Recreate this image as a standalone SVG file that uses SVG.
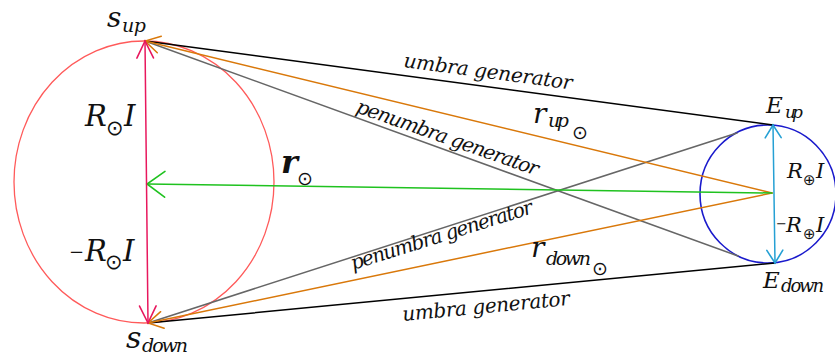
<svg xmlns="http://www.w3.org/2000/svg" width="835" height="356" viewBox="0 0 835 356">
<style>
  .ln { fill: none; stroke-width: 1.5; stroke-linecap: round; }
  .t { font-family: "DejaVu Serif", "Liberation Serif", serif; font-style: italic; fill: #111; }
  .sym { font-family: "DejaVu Sans", "Noto Sans", sans-serif; font-style: normal; fill: #111; }
  .gen { font-family: "DejaVu Serif", "Liberation Serif", serif; font-style: italic; font-size: 20px; fill: #111; }
</style>
<defs>
  <marker id="mPink" markerUnits="userSpaceOnUse" orient="auto-start-reverse" markerWidth="40" markerHeight="40" refX="0" refY="0" overflow="visible">
    <path d="M -17 -8.3 L 0 0 L -17 8.3" fill="none" stroke="#e8175d" stroke-width="1.6" stroke-linecap="round"/>
  </marker>
  <marker id="mOrange" markerUnits="userSpaceOnUse" orient="auto-start-reverse" markerWidth="40" markerHeight="40" refX="0" refY="0" overflow="visible">
    <path d="M -14.7 -8.5 L 0 0 L -14.7 8.5" fill="none" stroke="#d9780a" stroke-width="1.5" stroke-linecap="round"/>
  </marker>
  <marker id="mGreen" markerUnits="userSpaceOnUse" orient="auto-start-reverse" markerWidth="40" markerHeight="40" refX="0" refY="0" overflow="visible">
    <path d="M -17.8 -12.9 L 0 0 L -17.8 12.9" fill="none" stroke="#1fc21f" stroke-width="1.6" stroke-linecap="round"/>
  </marker>
  <marker id="mCyan" markerUnits="userSpaceOnUse" orient="auto-start-reverse" markerWidth="40" markerHeight="40" refX="0" refY="0" overflow="visible">
    <path d="M -12.7 -8 L 0 0 L -12.7 8" fill="none" stroke="#25a0d4" stroke-width="1.6" stroke-linecap="round"/>
  </marker>
</defs>
<rect width="835" height="356" fill="#ffffff"/>

<g id="sun">
  <ellipse cx="144" cy="182" rx="130" ry="141" fill="none" stroke="#ff5a5a" stroke-width="1.3"/>
</g>
<g id="earth">
  <ellipse cx="768" cy="194" rx="68" ry="69" fill="none" stroke="#1a1acc" stroke-width="1.6"/>
</g>

<g id="connectors">
  <line class="ln" x1="145" y1="41" x2="773" y2="125" stroke="#000"/>
  <line class="ln" x1="148" y1="323" x2="775" y2="263" stroke="#000"/>
  <line class="ln" x1="145" y1="41" x2="738" y2="256" stroke="#666"/>
  <line class="ln" x1="148" y1="323" x2="737" y2="133" stroke="#666"/>
  <line class="ln" x1="772" y1="193" x2="145" y2="41" stroke="#d9780a" marker-end="url(#mOrange)"/>
  <line class="ln" x1="772" y1="193" x2="148" y2="323" stroke="#d9780a" marker-end="url(#mOrange)"/>
  <line class="ln" x1="772" y1="193" x2="147" y2="184" stroke="#1fc21f" stroke-width="1.8" marker-end="url(#mGreen)"/>
  <line class="ln" x1="145" y1="41" x2="148" y2="323" stroke="#e8175d" stroke-width="1.6" marker-start="url(#mPink)" marker-end="url(#mPink)"/>
  <line class="ln" x1="773" y1="125" x2="775" y2="263" stroke="#25a0d4" stroke-width="1.8" marker-start="url(#mCyan)" marker-end="url(#mCyan)"/>
</g>

<g id="labels">
  <g id="s-up">
    <text class="t" x="107" y="27" font-size="28">s</text>
    <text class="t" x="122" y="32" font-size="19" textLength="24">up</text>
  </g>
  <g id="s-down">
    <text class="t" x="126" y="348" font-size="30">s</text>
    <text class="t" x="142" y="352" font-size="19" textLength="46">down</text>
  </g>
  <g id="R-sun">
    <text class="t" x="85" y="126" font-size="29">R</text>
    <text class="sym" x="106" y="135" font-size="21">⊙</text>
    <text class="t" x="124" y="126" font-size="29">I</text>
  </g>
  <g id="minus-R-sun">
    <text class="t" x="69" y="258" font-size="18" textLength="14">−</text>
    <text class="t" x="85" y="261" font-size="29">R</text>
    <text class="sym" x="105" y="269" font-size="21">⊙</text>
    <text class="t" x="123" y="261" font-size="29">I</text>
  </g>
  <g id="r-sun">
    <text class="t" x="281" y="173" font-size="32" font-weight="bold">r</text>
    <text class="sym" x="297" y="185" font-size="19">⊙</text>
  </g>
  <g id="r-up">
    <text class="t" x="533" y="123" font-size="28">r</text>
    <text class="t" x="548" y="127" font-size="19" textLength="21">up</text>
    <text class="sym" x="572" y="139" font-size="19">⊙</text>
  </g>
  <g id="r-down">
    <text class="t" x="531" y="257" font-size="28">r</text>
    <text class="t" x="546" y="265" font-size="19" textLength="45">down</text>
    <text class="sym" x="592" y="275" font-size="19">⊙</text>
  </g>
  <g id="E-up">
    <text class="t" x="766" y="113" font-size="23">E</text>
    <text class="t" x="785" y="118" font-size="17" textLength="18">up</text>
  </g>
  <g id="E-down">
    <text class="t" x="763" y="288" font-size="23">E</text>
    <text class="t" x="781" y="292" font-size="18" textLength="43">down</text>
  </g>
  <g id="R-earth">
    <text class="t" x="787" y="178" font-size="21">R</text>
    <text class="sym" x="803" y="185" font-size="15">⊕</text>
    <text class="t" x="816" y="178" font-size="21">I</text>
  </g>
  <g id="minus-R-earth">
    <text class="t" x="776" y="228" font-size="13" textLength="8">−</text>
    <text class="t" x="786" y="232" font-size="21">R</text>
    <text class="sym" x="803" y="239" font-size="15">⊕</text>
    <text class="t" x="816" y="232" font-size="21">I</text>
  </g>
  <text class="gen" transform="translate(403,67) rotate(7.6)" textLength="170">umbra generator</text>
  <text class="gen" transform="translate(355,112) rotate(19.4)" textLength="192">penumbra generator</text>
  <text class="gen" transform="translate(353,270) rotate(-17.5)" textLength="190">penumbra generator</text>
  <text class="gen" transform="translate(403,321) rotate(-5.5)" textLength="168">umbra generator</text>
</g>
</svg>
